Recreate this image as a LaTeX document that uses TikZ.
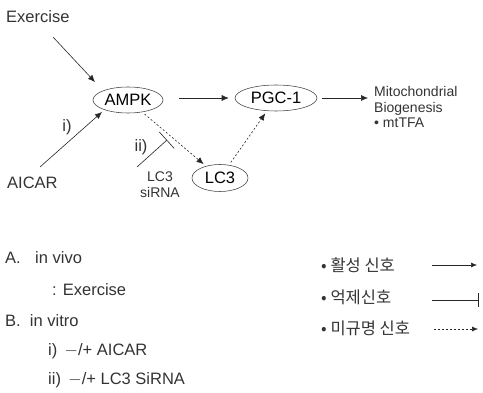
\documentclass[tikz,border=0pt]{standalone}
\usepackage{fontspec}
\setmainfont{Liberation Sans}
\newfontfamily\kr{Noto Sans CJK KR}
\usetikzlibrary{shapes.geometric,arrows.meta}
\begin{document}
\begin{tikzpicture}[x=1pt,y=-1pt,
  font=\fontsize{16.5}{18}\selectfont,
  ell/.style={ellipse, draw=black!75, line width=0.55pt, inner sep=0pt},
  lbl/.style={inner sep=0pt, anchor=west, text=black!80},
  clbl/.style={inner sep=0pt, text=black!80},
  krl/.style={lbl, font=\kr\fontsize{16.5}{18}\selectfont},
  act/.style={-{Latex[length=7pt,width=6pt]}, line width=0.6pt, draw=black!85},
  unk/.style={act, dash pattern=on 2pt off 2pt},
  inh/.style={-{Bar[width=22pt]}, line width=0.6pt, draw=black!85}]
\useasboundingbox (0,0) rectangle (483,393);

% nodes
\node[lbl] (exercise) at (6,17) {Exercise};
\node[lbl] (aicar) at (7,183) {AICAR};
\node[ell, minimum width=70pt, minimum height=26pt] (ampk) at (128,100) {AMPK};
\node[ell, minimum width=82pt, minimum height=26pt] (pgc) at (276,98) {PGC-1};
\node[ell, minimum width=56pt, minimum height=27pt] (lc3) at (220,178) {LC3};
\node[lbl, align=left, font=\fontsize{14}{15.5}\selectfont] (mito) at (374,107)
  {Mitochondrial\\Biogenesis\\• mtTFA};
\node[clbl] (li) at (67,127) {i)};
\node[clbl] (lii) at (141,147) {ii)};
\node[clbl, align=center, font=\fontsize{14}{16}\selectfont] (sirna) at (160,185) {LC3\\siRNA};

% free ends
\coordinate (ex1) at (53,37);
\coordinate (ex2) at (95,82);
\coordinate (ai1) at (40,167);
\coordinate (ai2) at (102,112);
\coordinate (si1) at (137,167);
\coordinate (si2) at (167,140);

% connectors
\draw[act] (ex1) -- (ex2);
\draw[act] (ai1) -- (ai2);
\draw[act] ([xshift=16pt]ampk.east |- pgc.west) -- ([xshift=-6pt]pgc.west);
\draw[act, shorten <=5pt, shorten >=6pt] (pgc.east) -- (mito.west |- pgc.east);
\draw[unk, shorten <=3pt, shorten >=3pt] (ampk) -- (lc3);
\draw[unk, shorten <=3pt, shorten >=3pt] (lc3) -- (pgc);
\draw[inh] (si1) -- (si2);

% bottom-left list
\node[lbl] (a) at (5,258) {A.};
\node[lbl] (av) at (35,258) {in vivo};
\node[lbl] (ae) at (52,290) {: Exercise};
\node[lbl] (b) at (5,321) {B.\ \ in vitro};
\node[lbl] (bi) at (48,351) {i) \,$-$/+ AICAR};
\node[lbl] (bii) at (48,380) {ii) \,$-$/+ LC3 SiRNA};

% legend
\node[krl] (l1) at (321,265) {• 활성 신호};
\node[krl] (l2) at (321,297) {• 억제신호};
\node[krl] (l3) at (321,328) {• 미규명 신호};
\coordinate (e1) at (477,265);
\coordinate (e2) at (479,300);
\coordinate (e3) at (478,329);
\draw[act, -{Latex[length=6pt,width=5pt]}] (432,265) -- (e1);
\draw[inh, -{Bar[width=14pt]}] (432,300) -- (e2);
\draw[unk, -{Latex[length=6pt,width=5pt]}] (434,329) -- (e3);
\end{tikzpicture}
\end{document}
